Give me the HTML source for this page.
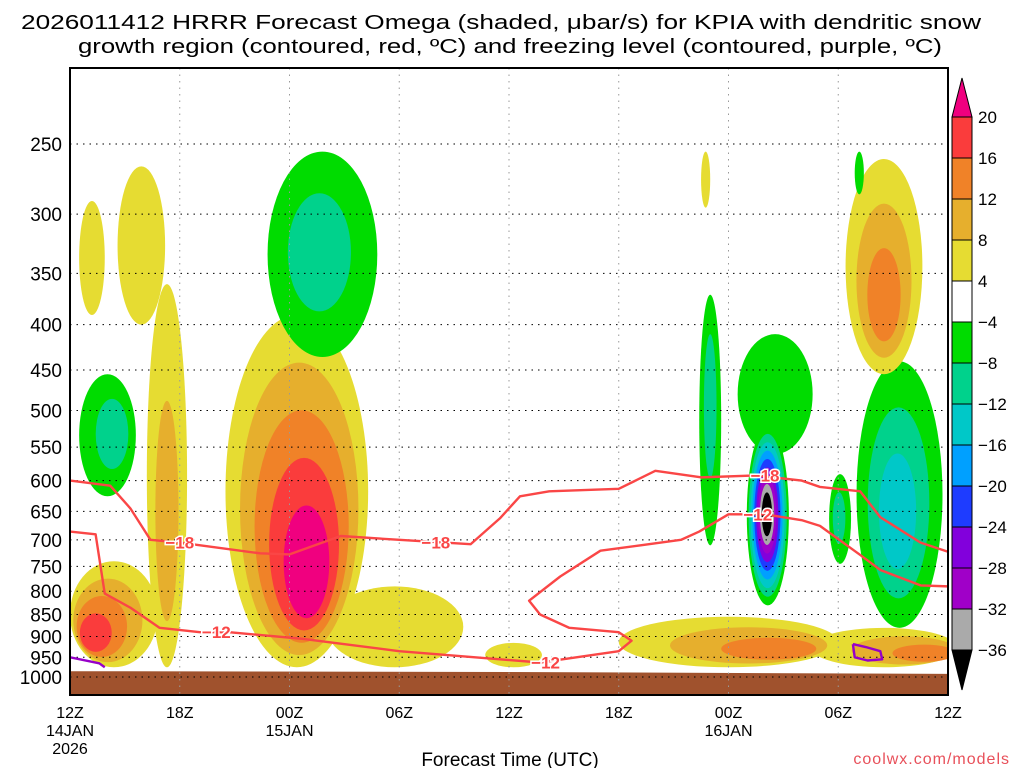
<!DOCTYPE html>
<html><head><meta charset="utf-8"><style>
body{margin:0;background:#fff}
svg{display:block;font-family:"Liberation Sans",sans-serif}
</style></head><body>
<svg id="c" width="1024" height="768" viewBox="0 0 1024 768">
<text x="501" y="29" font-size="20" text-anchor="middle" textLength="960" lengthAdjust="spacingAndGlyphs">2026011412 HRRR Forecast Omega (shaded, μbar/s) for KPIA with dendritic snow</text>
<text x="510" y="53" font-size="20" text-anchor="middle" textLength="864" lengthAdjust="spacingAndGlyphs">growth region (contoured, red, ºC) and freezing level (contoured, purple, ºC)</text>
<defs><clipPath id="pc"><rect x="70" y="68" width="878" height="627"/></clipPath></defs>
<g id="shade" clip-path="url(#pc)"></g>
<g id="grid"></g>
<g id="cont" clip-path="url(#pc)"></g>
<rect x="70" y="68" width="878" height="627" fill="none" stroke="#000" stroke-width="2"/>
<g id="axes"></g>
<g id="cbar"></g>
<text x="510" y="766" font-size="19" text-anchor="middle">Forecast Time (UTC)</text>
<text x="1010" y="764" font-size="16" text-anchor="end" fill="#e8505a" letter-spacing="1">coolwx.com/models</text>
</svg>
<script>
// ---- data ----
const pressureTicks=[250,300,350,400,450,500,550,600,650,700,750,800,850,900,950,1000];
const timeTickHours=[0,6,12,18,24,30,36,42,48];
const timeTickLabels=["12Z","18Z","00Z","06Z","12Z","18Z","00Z","06Z","12Z"];
const dateLabels=[[0,"14JAN"],[0,"2026"],[12,"15JAN"],[36,"16JAN"]];
const levelLabels=["20","16","12","8","4","−4","−8","−12","−16","−20","−24","−28","−32","−36"];
const posColors=["#e6dc32","#e6af2d","#f08228","#fa3c3c","#f0007f"];
const negColors=["#00dc00","#00d28c","#00c8c8","#00a0ff","#1e3cff","#8200dc","#a000c8","#aaaaaa","#000000"];
// omega cells: left hour, right hour, top pressure, bottom pressure, core hour, core pressure, peak level (+up / -down)
const blobT0=[8.5,14,4.2,0.5,2.6,0.5,0,10.8,22.7,34.4,36.5,37.0,41.5,43.0,42.4,30,40.5,34.5,42.9];
const blobT1=[16.3,21.5,6.4,1.9,5.2,3.6,4.8,16.8,25.8,35.6,40.6,39.3,42.7,47.7,46.6,42,48.5,35.0,43.4];
const blobPTop=[390,790,360,290,265,455,740,255,915,370,410,520,590,440,260,855,880,255,255];
const blobPBot=[975,975,975,390,400,625,975,435,975,710,560,830,745,880,455,975,975,295,285];
const blobInT=[13,16,5.3,1.2,3.5,2.5,1.2,13.5,24,35,38,38.1,42,45.2,44.5,39,47.5,34.7,43.1];
const blobInP=[760,880,700,340,320,530,900,330,950,480,470,655,660,660,380,935,945,275,270];
const blobPeak=[5,1,2,1,1,-2,4,-2,1,-2,-1,-9,-2,-3,3,3,3,1,-1];
// -18C isotherm
const m18T=[0,2.2,3.3,4.4,6,10.4,12,14.8,18,21.9,23.5,24.6,26.2,30,32,34.5,37.5,40,41,43.2,44.3,46.5,48];
const m18P=[600,608,645,700,705,725,727,693,700,708,662,625,617,613,585,595,592,600,610,617,660,705,722];
// -12C isotherm
const m12T=[0,1.4,1.9,3.3,4.9,7.1,8.7,12.6,18,23.5,25.7,30,30.7,30,27.3,25.7,25.1,26.8,29,31.2,33.4,34.4,36,38,40,41,43.2,44.3,46.5,48];
const m12P=[685,690,805,835,880,890,890,905,935,955,963,935,910,890,880,850,820,770,720,710,700,685,655,655,665,675,728,757,788,790];
// 0C freezing level pieces
const fz1T=[0,1.6,1.9]; const fz1P=[950,965,975];
const fz2T=[42.8,43.5,44.3,44.4,43.6,42.9,42.8]; const fz2P=[918,925,935,955,958,950,918];
const c18Labels=[[6,705],[20,705],[38,592]];
const c12Labels=[[8,890],[26,963],[37.6,655]];
const surfT=[0,24,48]; const surfP=[985,987,992];
// ---- axes ----
const X=t=>70+t*878/48;
const Y=p=>677-384.5*Math.log(1000/p);
const NS="http://www.w3.org/2000/svg";
function el(tag,attrs,parent){const e=document.createElementNS(NS,tag);for(const k in attrs)e.setAttribute(k,attrs[k]);parent.appendChild(e);return e;}
const shade=document.getElementById('shade'),grid=document.getElementById('grid'),cont=document.getElementById('cont'),axes=document.getElementById('axes'),cbar=document.getElementById('cbar');
for(let k=1;k<=9;k++){
  for(let i=0;i<blobPeak.length;i++){
    const n=Math.abs(blobPeak[i]); if(n<k)continue;
    const f=(k-1)/n;
    const x0=X(blobT0[i]),x1=X(blobT1[i]),y0=Y(blobPTop[i]),y1=Y(blobPBot[i]);
    const cx0=(x0+x1)/2,cy0=(y0+y1)/2,cxi=X(blobInT[i]),cyi=Y(blobInP[i]);
    const s=1-f*0.85;
    const e=el('ellipse',{cx:cx0+(cxi-cx0)*f*1.1,cy:cy0+(cyi-cy0)*f*1.1,rx:(x1-x0)/2*s,ry:(y1-y0)/2*s,fill:blobPeak[i]>0?posColors[k-1]:negColors[k-1]},shade);
    
    
  }
}
let gp="M70,700 ";surfT.forEach((t,i)=>gp+="L"+X(t)+","+Y(surfP[i])+" ");gp+="L948,700 Z";
const g=el('path',{d:gp,fill:"#a0522d"},shade);


pressureTicks.forEach(p=>{
  const l=el('line',{x1:70,x2:948,y1:Y(p),y2:Y(p),stroke:"#000","stroke-dasharray":"1.5 5"},grid);
  
  
  const t=el('text',{x:62,y:Y(p)+7,"font-size":19,"text-anchor":"end"},axes);t.textContent=p;
  
  
});
timeTickHours.forEach((h,i)=>{
  const l=el('line',{x1:X(h),x2:X(h),y1:68,y2:695,stroke:"#999","stroke-dasharray":"1.5 5"},grid);
  
  
  const t=el('text',{x:X(h),y:718,"font-size":16,"text-anchor":"middle"},axes);t.textContent=timeTickLabels[i];
  
  
});
dateLabels.forEach((d,i)=>{
  const t=el('text',{x:X(d[0]),y:i==1?754:736,"font-size":16,"text-anchor":"middle"},axes);t.textContent=d[1];
  
  
});
function line(T,P,color,name){
  const pts=T.map((t,i)=>X(t)+","+Y(P[i])).join(" ");
  const l=el('polyline',{points:pts,fill:"none",stroke:color,"stroke-width":2.4,"stroke-linejoin":"round"},cont);
  
  
}
line(m18T,m18P,"#fa4646","isotherm-minus18");
line(m12T,m12P,"#fa4646","isotherm-minus12");
line(fz1T,fz1P,"#9600c8","freezing-level-left");
line(fz2T,fz2P,"#9600c8","freezing-level-loop");
function clab(arr,txt){arr.forEach(a=>{
  const x=X(a[0]),y=Y(a[1]);
  const t=el('text',{x:x,y:y+6,"font-size":17,"font-weight":"bold","text-anchor":"middle",fill:"#fa4646",stroke:"#fff","stroke-width":3,"paint-order":"stroke"},cont);t.textContent=txt;
  
  
});}
clab(c18Labels,"−18");clab(c12Labels,"−12");
const cbColors=["#fa3c3c","#f08228","#e6af2d","#e6dc32","#ffffff","#00dc00","#00d28c","#00c8c8","#00a0ff","#1e3cff","#8200dc","#a000c8","#aaaaaa"];
el('polygon',{points:"952,117 972,117 962,78",fill:"#f0007f",stroke:"#000"},cbar);
cbColors.forEach((c,i)=>{
  const r=el('rect',{x:952,y:117+i*41,width:20,height:41,fill:c,stroke:"#000"},cbar);
  
  
});
el('polygon',{points:"952,650 972,650 962,690",fill:"#000",stroke:"#000"},cbar);
levelLabels.forEach((s,i)=>{
  const t=el('text',{x:978,y:117+i*41+6,"font-size":17},cbar);t.textContent=s;
  
  
});
</script>
</body></html>
